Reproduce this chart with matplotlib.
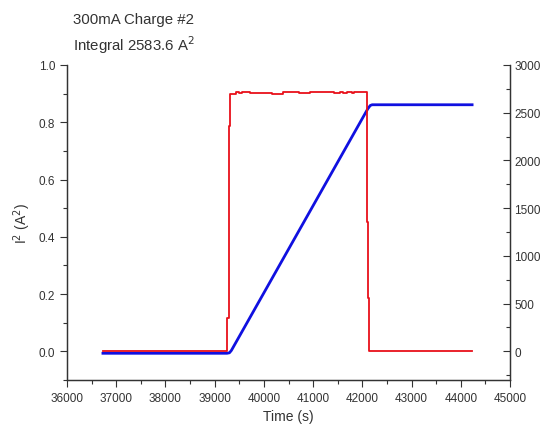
"""
300mA Charge #2: I^2 vs time (left axis) and its running integral (right axis).
"""
import matplotlib.pyplot as plt
from matplotlib.ticker import MultipleLocator

plt.rcParams["font.family"] = ["Liberation Sans", "DejaVu Sans"]

# I^2 trace (A^2)
red_time = [36730, 39260, 39260, 39285, 39285, 39320, 39320, 39430, 39430,
            39500, 39500, 39560, 39560, 39710, 39710, 40170, 40170, 40380,
            40380, 40720, 40720, 40930, 40930, 41430, 41430, 41540, 41540,
            41600, 41600, 41680, 41680, 41780, 41780, 41840, 41840, 42090,
            42090, 42110, 42110, 42130, 42130, 42160, 42160, 44230]
red_i2 = [0.0, 0.0, 0.115, 0.115, 0.787, 0.787, 0.900, 0.900, 0.904,
          0.904, 0.902, 0.902, 0.904, 0.904, 0.903, 0.903, 0.900, 0.900,
          0.904, 0.904, 0.901, 0.901, 0.904, 0.904, 0.901, 0.901, 0.904,
          0.904, 0.901, 0.901, 0.904, 0.904, 0.901, 0.901, 0.904, 0.904,
          0.453, 0.453, 0.185, 0.185, 0.0, 0.0, 0.0, 0.0]

# running integral (A^2 s)
blue_time = [36730, 39250, 39300, 39340, 42110, 42160, 42200, 44230]
blue_integral = [-20, -20, -15, 10, 2540, 2575, 2583, 2583]

fig = plt.figure(figsize=(5.51, 4.31), dpi=100)
ax = fig.add_axes([0.1216, 0.116, 0.804, 0.731])
ax2 = ax.twinx()

ax.plot(red_time, red_i2, color="#e8101a", lw=1.3, zorder=3)
ax2.plot(blue_time, blue_integral, color="#1010e0", lw=2.0)
ax.set_zorder(ax2.get_zorder() + 1)
ax.patch.set_visible(False)

ax.set_xlim(36000, 45000)
ax.set_ylim(-0.1, 1.0)
ax2.set_ylim(-300, 3000)

ax.xaxis.set_major_locator(MultipleLocator(1000))
ax.xaxis.set_minor_locator(MultipleLocator(500))
ax.yaxis.set_major_locator(MultipleLocator(0.2))
ax.yaxis.set_minor_locator(MultipleLocator(0.1))
ax2.yaxis.set_major_locator(MultipleLocator(500))
ax2.yaxis.set_minor_locator(MultipleLocator(250))
ax.yaxis.set_major_formatter(lambda v, p: f"{v:.1f}")

dark = "#333333"
for a in (ax, ax2):
    a.spines["top"].set_visible(False)
    for s in a.spines.values():
        s.set_color(dark)
        s.set_linewidth(0.9)
ax.tick_params(which="major", direction="out", length=5, width=0.8,
               colors=dark, labelsize=8.5)
ax.tick_params(which="minor", direction="out", length=3, width=0.8, colors=dark)
ax2.tick_params(which="major", direction="in", length=5, width=0.8,
                colors=dark, labelsize=8.5, pad=3)
ax2.tick_params(which="minor", direction="in", length=3, width=0.8, colors=dark)

ax.set_xlabel("Time (s)", fontsize=10, color=dark, labelpad=4)
ax.set_ylabel("I$^2$ (A$^2$)", fontsize=10, color=dark, labelpad=4)

fig.text(0.1325, 0.953, "300mA Charge #2", fontsize=10.8, color=dark, va="center")
fig.text(0.1325, 0.895, "Integral 2583.6 A$^2$", fontsize=10.8, color=dark,
         va="center")

fig.savefig("out.png", dpi=100)
